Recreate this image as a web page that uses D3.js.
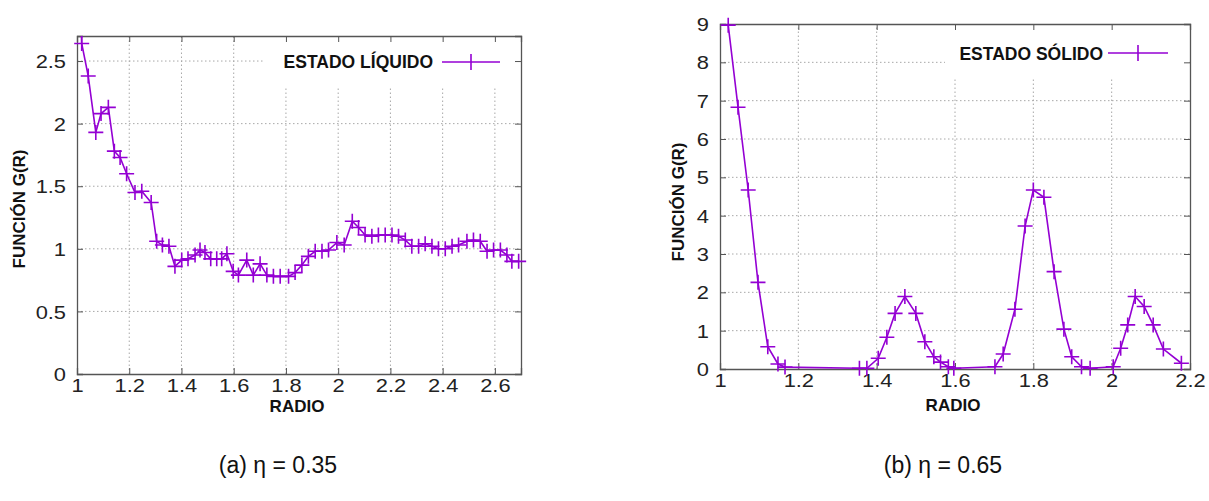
<!DOCTYPE html>
<html>
<head>
<meta charset="utf-8">
<script src="https://cdn.jsdelivr.net/npm/d3@7"></script>
<style>
  body { margin: 0; background: #fff; }
  text { font-family: "Liberation Sans", Arial, sans-serif; }
</style>
</head>
<body>
<svg id="fig" width="1209" height="501"></svg>
<script>
// (a) liquid state, eta = 0.35
const liquid_r = [0.995, 1.018, 1.043, 1.072, 1.092, 1.120, 1.143, 1.165, 1.190, 1.222, 1.248,
  1.284, 1.305, 1.327, 1.352, 1.375, 1.401, 1.425, 1.452, 1.471, 1.490, 1.512, 1.535, 1.554,
  1.574, 1.598, 1.618, 1.650, 1.675, 1.701, 1.727, 1.752, 1.778, 1.810, 1.835, 1.861, 1.886,
  1.912, 1.938, 1.963, 1.995, 2.023, 2.054, 2.078, 2.103, 2.129, 2.154, 2.180, 2.206, 2.231,
  2.257, 2.282, 2.308, 2.333, 2.359, 2.384, 2.410, 2.436, 2.461, 2.493, 2.518, 2.544, 2.570,
  2.595, 2.621, 2.646, 2.665, 2.691];
const liquid_g = [5.0, 2.64, 2.38, 1.93, 2.08, 2.13, 1.78, 1.73, 1.60, 1.45, 1.46,
  1.37, 1.06, 1.03, 1.02, 0.86, 0.91, 0.92, 0.95, 0.99, 0.97, 0.92, 0.92, 0.92,
  0.96, 0.82, 0.79, 0.91, 0.79, 0.88, 0.79, 0.78, 0.78, 0.78, 0.81, 0.87, 0.94,
  0.98, 0.98, 0.99, 1.05, 1.03, 1.22, 1.17, 1.11, 1.10, 1.11, 1.11, 1.11, 1.10,
  1.07, 1.02, 1.02, 1.04, 1.02, 1.00, 1.00, 1.02, 1.03, 1.06, 1.07, 1.06, 0.98,
  0.99, 0.99, 0.95, 0.90, 0.90];

// (b) solid state, eta = 0.65
const solid_r = [1.021, 1.046, 1.072, 1.097, 1.122, 1.148, 1.166, 1.356, 1.375, 1.404, 1.426,
  1.447, 1.472, 1.500, 1.523, 1.546, 1.563, 1.583, 1.597, 1.702, 1.723, 1.753, 1.779, 1.800,
  1.827, 1.853, 1.878, 1.898, 1.923, 1.945, 2.004, 2.023, 2.041, 2.060, 2.083, 2.106, 2.132,
  2.178];
const solid_g = [8.97, 6.83, 4.67, 2.26, 0.58, 0.13, 0.05, 0.02, 0.02, 0.28, 0.83,
  1.45, 1.89, 1.45, 0.71, 0.32, 0.18, 0.06, 0.02, 0.06, 0.39, 1.56, 3.73, 4.67,
  4.48, 2.54, 1.04, 0.32, 0.06, 0.02, 0.06, 0.54, 1.15, 1.89, 1.63, 1.15, 0.52,
  0.15];

const liquid_x_ticks = [1, 1.2, 1.4, 1.6, 1.8, 2, 2.2, 2.4, 2.6];
const liquid_y_ticks = [0, 0.5, 1, 1.5, 2, 2.5];
const solid_x_ticks = [1, 1.2, 1.4, 1.6, 1.8, 2, 2.2];
const solid_y_ticks = [0, 1, 2, 3, 4, 5, 6, 7, 8, 9];

const line_color = '#9400d3';
const svg = d3.select('#fig');

// the tick numbers in the picture are a little wider than the font
function widen(sel, factor){
    sel.each(function(){
        const len = this.getComputedTextLength();
        d3.select(this).attr('textLength', len * factor).attr('lengthAdjust', 'spacingAndGlyphs');
    });
}

function drawPanel(p){
    const x = d3.scaleLinear().domain(p.x_domain).range([p.left, p.right]);
    const y = d3.scaleLinear().domain(p.y_domain).range([p.bottom, p.top]);
    const g = svg.append('g');
    const w = p.right - p.left, h = p.bottom - p.top;

    // dotted grid
    g.append('g').selectAll('line.vgrid')
     .data(p.x_ticks.filter(function(d){return d > p.x_domain[0] && d < p.x_domain[1];}))
     .enter().append('line')
     .attr('x1', function(d){return x(d);}).attr('x2', function(d){return x(d);})
     .attr('y1', p.bottom).attr('y2', p.top)
     .attr('stroke', '#a8a8a8').attr('stroke-width', 1).attr('stroke-dasharray', '1.5,2.5');
    g.append('g').selectAll('line.hgrid')
     .data(p.y_ticks.filter(function(d){return d > p.y_domain[0] && d < p.y_domain[1];}))
     .enter().append('line')
     .attr('x1', p.left).attr('x2', p.right)
     .attr('y1', function(d){return y(d);}).attr('y2', function(d){return y(d);})
     .attr('stroke', '#a8a8a8').attr('stroke-width', 1).attr('stroke-dasharray', '1.5,2.5');

    // legend box hides grid behind it
    g.append('rect').attr('x', p.key_box[0]).attr('y', p.top + 1)
     .attr('width', p.right - 1 - p.key_box[0]).attr('height', p.key_box[1] - p.top - 1)
     .attr('fill', '#fff');

    // axes with inward ticks, mirrored on top and right
    const ax_b = g.append('g').attr('transform', 'translate(0,' + p.bottom + ')')
        .call(d3.axisBottom(x).tickValues(p.x_ticks).tickSize(-6).tickPadding(5)
              .tickFormat(d3.format('')));
    const ax_l = g.append('g').attr('transform', 'translate(' + p.left + ',0)')
        .call(d3.axisLeft(y).tickValues(p.y_ticks).tickSize(-6).tickPadding(11)
              .tickFormat(d3.format('')));
    const ax_t = g.append('g').attr('transform', 'translate(0,' + p.top + ')')
        .call(d3.axisTop(x).tickValues(p.x_ticks).tickSize(-6).tickFormat(''));
    const ax_r = g.append('g').attr('transform', 'translate(' + p.right + ',0)')
        .call(d3.axisRight(y).tickValues(p.y_ticks).tickSize(-6).tickFormat(''));
    [ax_b, ax_l, ax_t, ax_r].forEach(function(a){
        a.select('.domain').attr('stroke', '#555').attr('stroke-width', 1.3);
        a.selectAll('.tick line').attr('stroke', '#555');
        a.selectAll('text').attr('font-size', 19).attr('fill', '#222')
         .style('font-family', '"Liberation Sans", Arial, sans-serif');
    });
    ax_b.selectAll('text').attr('dy', '0.71em');
    ax_l.selectAll('text').attr('dy', '0.35em');
    widen(ax_b.selectAll('text'), 1.15);
    widen(ax_l.selectAll('text'), 1.15);

    // data
    const pts = p.r.map(function(d, i){return [d, p.g[i]];});
    const clip_id = 'clip' + p.name;
    svg.append('clipPath').attr('id', clip_id).append('rect')
       .attr('x', p.left).attr('y', p.top).attr('width', w).attr('height', h);
    g.append('path').datum(pts)
     .attr('clip-path', 'url(#' + clip_id + ')')
     .attr('d', d3.line().x(function(d){return x(d[0]);}).y(function(d){return y(d[1]);}))
     .attr('fill', 'none').attr('stroke', line_color).attr('stroke-width', 1.6);
    const shown = pts.filter(function(d){return d[0] >= p.x_domain[0] && d[1] <= p.y_domain[1];});
    const marks = g.append('g').selectAll('g.mark').data(shown).enter().append('g')
     .attr('transform', function(d){return 'translate(' + x(d[0]) + ',' + y(d[1]) + ')';});
    marks.append('path').attr('d', 'M-7.5,0H7.5M0,-7.5V7.5')
     .attr('stroke', line_color).attr('stroke-width', 1.6);

    // legend
    g.append('text').text(p.key_label)
     .attr('x', p.key_text[0]).attr('y', p.key_text[1]).attr('text-anchor', 'end')
     .attr('font-size', 17.5).attr('font-weight', 'bold').attr('fill', '#111');
    g.append('line').attr('x1', p.key_line[0]).attr('x2', p.key_line[1])
     .attr('y1', p.key_line[2]).attr('y2', p.key_line[2])
     .attr('stroke', line_color).attr('stroke-width', 1.6);
    const kx = (p.key_line[0] + p.key_line[1]) / 2;
    g.append('line').attr('x1', kx).attr('x2', kx)
     .attr('y1', p.key_line[2] - 8).attr('y2', p.key_line[2] + 8)
     .attr('stroke', line_color).attr('stroke-width', 1.6);

    // axis titles
    g.append('text').text('FUNCIÓN G(R)')
     .attr('transform', 'translate(' + p.ytitle[0] + ',' + p.ytitle[1] + ') rotate(-90)')
     .attr('text-anchor', 'middle').attr('font-size', 17).attr('font-weight', 'bold').attr('fill', '#111');
    g.append('text').text('RADIO')
     .attr('x', p.xtitle[0]).attr('y', p.xtitle[1]).attr('text-anchor', 'middle')
     .attr('font-size', 17).attr('font-weight', 'bold').attr('fill', '#111');

    // caption
    svg.append('text').text(p.caption)
     .attr('x', p.cap[0]).attr('y', p.cap[1]).attr('text-anchor', 'middle')
     .attr('font-size', 23).attr('fill', '#111');
}

drawPanel({name: 'a', r: liquid_r, g: liquid_g, x_ticks: liquid_x_ticks, y_ticks: liquid_y_ticks,
    x_domain: [1, 2.7], y_domain: [0, 2.7], left: 77, right: 521, top: 36, bottom: 374,
    key_box: [265, 88], key_label: 'ESTADO LÍQUIDO', key_text: [433, 68], key_line: [442, 500, 62],
    ytitle: [25, 209], xtitle: [297, 412], caption: '(a) η = 0.35', cap: [278, 473]});

drawPanel({name: 'b', r: solid_r, g: solid_g, x_ticks: solid_x_ticks, y_ticks: solid_y_ticks,
    x_domain: [1, 2.2], y_domain: [0, 9], left: 720, right: 1190, top: 24, bottom: 369,
    key_box: [945, 77], key_label: 'ESTADO SÓLIDO', key_text: [1103, 60], key_line: [1108, 1168, 53],
    ytitle: [684, 202], xtitle: [953, 411], caption: '(b) η = 0.65', cap: [943, 473]});
</script>
</body>
</html>
